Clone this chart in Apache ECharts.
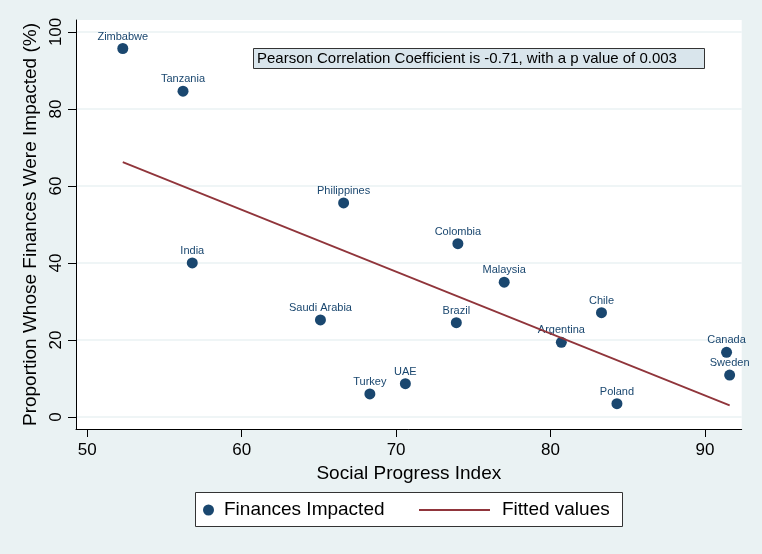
<!DOCTYPE html>
<html>
<head>
<meta charset="utf-8">
<script src="https://cdn.jsdelivr.net/npm/echarts@6/dist/echarts.min.js"></script>
<style>
html,body{margin:0;padding:0;background:#eaf2f3;}
#chart{width:762px;height:554px;}
</style>
</head>
<body>
<div id="chart"></div>
<script>
// ---- data ----
const countries = ['Zimbabwe','Tanzania','India','Philippines','Colombia','Malaysia','Brazil','Argentina','Turkey','UAE','Chile','Canada','Sweden','Poland','Saudi Arabia'];
const socialProgress = [52.3, 56.2, 56.8, 66.6, 74.0, 77.0, 73.9, 80.7, 68.3, 70.6, 83.3, 91.4, 91.6, 84.3, 65.1];
const financesImpacted = [95.7, 84.6, 40.0, 55.6, 45.0, 35.0, 24.5, 19.4, 6.0, 8.65, 27.1, 16.8, 10.9, 3.45, 25.2];
const fittedX = [52.3, 91.6];
const fittedY = [66.2, 3.0];
const xTicks = [50, 60, 70, 80, 90];
const yTicks = [0, 20, 40, 60, 80, 100];
const annotation = 'Pearson Correlation Coefficient is -0.71, with a p value of 0.003';

const FONT = '"Liberation Sans", Arial, sans-serif';
const NAVY = '#1a476f';
const MAROON = '#90353b';

const scatterData = countries.map((c, i) => [socialProgress[i], financesImpacted[i], c]);
const lineData = fittedX.map((x, i) => [x, fittedY[i]]);

const chart = echarts.init(document.getElementById('chart'), null, {renderer: 'canvas'});
chart.setOption({
  animation: false,
  backgroundColor: '#eaf2f3',
  textStyle: {fontFamily: FONT},
  title: {
    text: annotation,
    left: 253,
    top: 48,
    padding: [3, 28, 2, 4],
    backgroundColor: '#d9e5ec',
    borderColor: '#333333',
    borderWidth: 1,
    textStyle: {fontFamily: FONT, fontSize: 15, fontWeight: 'normal', color: '#000000', lineHeight: 16}
  },
  graphic: [{
    type: 'rect',
    z: 0,
    shape: {x: 195.5, y: 492.5, width: 427, height: 34},
    style: {fill: '#ffffff', stroke: '#333333', lineWidth: 1}
  }],
  legend: [{
    data: [{name: 'Finances Impacted', icon: 'circle'}],
    left: 203,
    top: 500.5,
    padding: 0,
    itemWidth: 11,
    itemHeight: 11,
    z: 5,
    textStyle: {fontFamily: FONT, fontSize: 19, color: '#000000', padding: [0, 0, 0, 5]}
  }, {
    data: [{name: 'Fitted values', icon: 'rect', itemStyle: {color: MAROON, borderWidth: 0}}],
    left: 419,
    top: 500.5,
    padding: 0,
    itemWidth: 71,
    itemHeight: 2,
    z: 5,
    textStyle: {fontFamily: FONT, fontSize: 19, color: '#000000', padding: [0, 0, 0, 7]}
  }],
  grid: {
    left: 76, right: 20.3, top: 20, bottom: 125,
    show: true, backgroundColor: '#ffffff', borderWidth: 0,
    containLabel: false
  },
  xAxis: {
    type: 'value',
    min: 49.27, max: 92.38,
    name: 'Social Progress Index',
    nameLocation: 'middle',
    nameGap: 31,
    nameTextStyle: {fontFamily: FONT, fontSize: 19, color: '#000000'},
    axisLine: {show: true, onZero: false, lineStyle: {color: '#000000', width: 1}},
    axisTick: {show: true, length: 8, customValues: xTicks, lineStyle: {color: '#000000'}},
    axisLabel: {customValues: xTicks, fontFamily: FONT, fontSize: 17, color: '#000000', margin: 13},
    splitLine: {show: false}
  },
  yAxis: {
    type: 'value',
    min: -3.12, max: 103.1,
    name: 'Proportion Whose Finances Were Impacted (%)',
    nameLocation: 'middle',
    nameGap: 28,
    nameTextStyle: {fontFamily: FONT, fontSize: 19, color: '#000000'},
    axisLine: {show: true, onZero: false, lineStyle: {color: '#000000', width: 1}},
    axisTick: {show: true, length: 8, customValues: yTicks, lineStyle: {color: '#000000'}},
    axisLabel: {customValues: yTicks, rotate: 90, fontFamily: FONT, fontSize: 17, color: '#000000', margin: 11},
    splitLine: {show: true, lineStyle: {color: '#eaf2f3', width: 1.5}}
  },
  series: [{
    name: 'Finances Impacted',
    type: 'scatter',
    symbol: 'circle',
    symbolSize: 11,
    z: 2,
    itemStyle: {color: NAVY, opacity: 1},
    label: {
      show: true,
      position: 'top',
      distance: 1,
      formatter: p => p.data[2],
      fontFamily: FONT,
      fontSize: 11,
      color: NAVY
    },
    emphasis: {disabled: true},
    data: scatterData
  }, {
    name: 'Fitted values',
    type: 'line',
    z: 4,
    symbol: 'none',
    showSymbol: false,
    lineStyle: {color: MAROON, width: 1.8},
    itemStyle: {color: MAROON},
    emphasis: {disabled: true},
    data: lineData
  }]
});
</script>
</body>
</html>
